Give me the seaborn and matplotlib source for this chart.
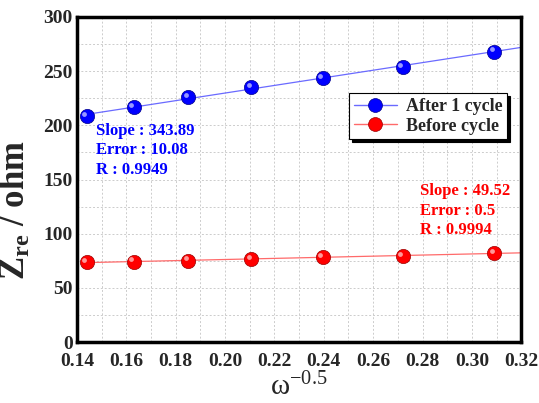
import numpy as np
import pandas as pd
import matplotlib
matplotlib.use("Agg")
import matplotlib.pyplot as plt
import seaborn as sns
from matplotlib.ticker import MultipleLocator
from matplotlib.lines import Line2D

x_vals = [0.144, 0.163, 0.185, 0.2105, 0.2395, 0.272, 0.309]
after_vals = [208.7, 216.5, 226.0, 235.0, 243.5, 254.0, 268.0]
before_vals = [73.5, 74.3, 75.3, 77.0, 78.2, 79.7, 82.0]
series_names = ["After 1 cycle", "Before cycle"]
after_stats = ["Slope : 343.89", "Error : 10.08", "R : 0.9949"]
before_stats = ["Slope : 49.52", "Error : 0.5", "R : 0.9994"]

sns.set_style("white")
plt.rcParams['font.family'] = ['Liberation Serif', 'DejaVu Serif']
plt.rcParams['mathtext.fontset'] = 'custom'
plt.rcParams['mathtext.rm'] = 'Liberation Serif'
plt.rcParams['mathtext.bf'] = 'Liberation Serif:bold'
plt.rcParams['mathtext.it'] = 'Liberation Serif:italic'

df = pd.DataFrame({
    "x": x_vals * 2,
    "y": after_vals + before_vals,
    "series": [series_names[0]] * len(x_vals) + [series_names[1]] * len(x_vals),
})

fig = plt.figure(figsize=(5.39, 4.03), dpi=100)
ax = fig.add_axes([0.143, 0.151, 0.824, 0.807])

colors = {"After 1 cycle": "#0000ff", "Before cycle": "#ff0000"}
linecolors = {"After 1 cycle": "#6a6aff", "Before cycle": "#ff6a6a"}
edgecolors = {"After 1 cycle": "#00008a", "Before cycle": "#9a0000"}

xlim = (0.14, 0.32)
for name, vals in zip(series_names, [after_vals, before_vals]):
    k, b = np.polyfit(x_vals, vals, 1)
    xs = np.array([x_vals[0], xlim[1]])
    ax.plot(xs, k * xs + b, color=linecolors[name], lw=0.9, zorder=2)
    sub = df[df["series"] == name]
    sns.scatterplot(data=sub, x="x", y="y", ax=ax, color=colors[name], s=105,
                    edgecolor=edgecolors[name], linewidth=0.5, zorder=3, legend=False)
    ax.scatter(sub["x"] - 0.001, sub["y"] + 2.0, s=12, color="white", alpha=0.6,
               linewidths=0, zorder=4)

handles = [Line2D([0], [0], color=linecolors[n], lw=1.0, marker='o', markersize=10,
                  markerfacecolor=colors[n], markeredgecolor=edgecolors[n],
                  markeredgewidth=0.5) for n in series_names]
leg = ax.legend(handles, series_names, loc="upper right", bbox_to_anchor=(0.968, 0.765),
                frameon=True, fancybox=False, shadow={'color': 'black', 'alpha': 1},
                edgecolor="black", framealpha=1, borderpad=0.25, handlelength=2.4,
                handletextpad=0.5, labelspacing=0.15, borderaxespad=0,
                prop={'weight': 'bold', 'size': 13, 'family': 'Liberation Serif'})
leg.get_frame().set_linewidth(0.8)

ax.set_xlim(*xlim)
ax.set_ylim(0, 300)
ax.xaxis.set_major_locator(MultipleLocator(0.02))
ax.xaxis.set_minor_locator(MultipleLocator(0.01))
ax.yaxis.set_major_locator(MultipleLocator(50))
ax.yaxis.set_minor_locator(MultipleLocator(25))
ax.xaxis.set_major_formatter(matplotlib.ticker.FormatStrFormatter('%.2f'))

ax.grid(True, which="both", color="#cccccc", linestyle=(0, (2, 2)), lw=0.7)
ax.set_axisbelow(True)
for s in ax.spines.values():
    s.set_linewidth(2.5)
    s.set_color("black")
ax.tick_params(which="major", direction="in", length=5, width=2.5, labelsize=14,
               pad=3)
ax.tick_params(axis="x", which="major", pad=8)
ax.tick_params(which="minor", direction="in", length=3, width=2.5)
for lab in ax.get_xticklabels() + ax.get_yticklabels():
    lab.set_fontweight("bold")

ax.set_xlabel(r"$\mathrm{\omega}^{-0.5}$", fontsize=21)
ax.xaxis.set_label_coords(0.5, -0.095)
ax.set_ylabel(r"$\mathbf{Z_{re}}$ / ohm", fontsize=25, fontweight="bold")
ax.yaxis.set_label_coords(-0.1, 0.405)

for i, t in enumerate(after_stats):
    ax.text(0.1477, 195 - i * 18, t, color="#0000ff", fontsize=12, fontweight="bold",
            va="center", ha="left")
for i, t in enumerate(before_stats):
    ax.text(0.279, 139 - i * 18, t, color="#ff0000", fontsize=12,
            fontweight="bold", va="center", ha="left")

fig.savefig("out.png", dpi=100)
